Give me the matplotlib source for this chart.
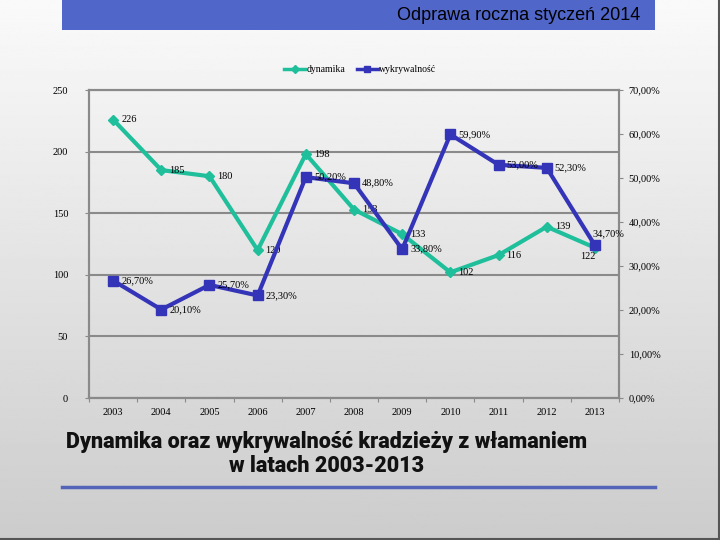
"""Dynamika oraz wykrywalnosc kradziezy z wlamaniem 2003-2013."""

import matplotlib

matplotlib.use("Agg")

import matplotlib.pyplot as plt  # noqa: E402
import numpy as np               # noqa: E402
from matplotlib.lines import Line2D  # noqa: E402

years = ["2003", "2004", "2005", "2006", "2007", "2008",
         "2009", "2010", "2011", "2012", "2013"]
dynamika = [226, 185, 180, 120, 198, 153, 133, 102, 116, 139, 122]
wykrywalnosc = [26.70, 20.10, 25.70, 23.30, 50.20, 48.80,
                33.80, 59.90, 53.00, 52.30, 34.70]

TEAL = "#1fbf9c"
BLUE = "#3434b8"
GRID = "#8a8a8a"
SERIF = ["Liberation Serif", "DejaVu Serif"]

fig = plt.figure(figsize=(7.2, 5.4), dpi=100)

# background gradient
bg = fig.add_axes([0, 0, 1, 1], zorder=-10)
grad = np.linspace(0.98, 0.80, 256).reshape(-1, 1)
bg.imshow(grad, cmap="gray", vmin=0, vmax=1, aspect="auto",
          extent=[0, 1, 0, 1], origin="upper")
bg.set_xlim(0, 1)
bg.set_ylim(0, 1)
bg.axis("off")

# header bar
bg.add_patch(plt.Rectangle((62 / 720, 1 - 30 / 540), (655 - 62) / 720, 30 / 540,
                           facecolor="#5066c8", edgecolor="none"))
bg.text(640 / 720, 1 - 15 / 540, "Odprawa roczna styczeń 2014",
        ha="right", va="center", fontsize=13,
        family=["Liberation Sans", "DejaVu Sans"], color="black")

# bottom title and rule
bg.text(327 / 720, 1 - 454 / 540,
        "Dynamika oraz wykrywalność kradzieży z włamaniem\nw latach 2003-2013",
        ha="center", va="center", fontsize=15.5, fontweight=900,
        linespacing=1.1, color="#111111",
        family=["Roboto", "DejaVu Sans"])
bg.plot([62 / 720, 655 / 720], [1 - 487 / 540] * 2, color="#5464b8", lw=2.5)
bg.plot([0, 1], [0.001, 0.001], color="#555555", lw=1.5)
bg.plot([0.999, 0.999], [0, 1], color="#555555", lw=1.5)

# chart
ax = fig.add_axes([89 / 720, 1 - 398 / 540, 530 / 720, 308 / 540])
ax.set_facecolor("none")
x = np.arange(len(years))
ax.plot(x, dynamika, color=TEAL, lw=3, marker="D", markersize=5, zorder=3)
ax.set_xlim(-0.5, len(years) - 0.5)
ax.set_ylim(0, 250)
ax.set_yticks(np.arange(0, 251, 50))
ax.set_yticklabels([str(v) for v in range(0, 251, 50)])
ax.yaxis.grid(True, color=GRID, lw=1.5)
ax.set_axisbelow(True)
ax.set_xticks(np.arange(-0.5, len(years), 1.0))
ax.set_xticklabels([])
ax.set_xticks(x, minor=True)
ax.set_xticklabels(years, minor=True)
ax.tick_params(axis="x", which="minor", length=0, pad=7)
ax.tick_params(axis="x", which="major", length=3, color=GRID)
ax.tick_params(axis="y", length=3, color=GRID, pad=12)
for s in ax.spines.values():
    s.set_color(GRID)
    s.set_linewidth(1.5)
for lab in ax.get_yticklabels() + ax.get_xticklabels(minor=True):
    lab.set_family(SERIF)
    lab.set_fontsize(7.5)

ax2 = ax.twinx()
ax2.plot(x, wykrywalnosc, color=BLUE, lw=3, marker="s", markersize=7, zorder=3)
ax2.set_ylim(0, 70)
ax2.set_yticks(np.arange(0, 71, 10))
ax2.set_yticklabels([f"{v:.2f}%".replace(".", ",") for v in range(0, 71, 10)])
ax2.tick_params(axis="y", length=3, color=GRID, pad=4)
for s in ax2.spines.values():
    s.set_color(GRID)
    s.set_linewidth(1.5)
for lab in ax2.get_yticklabels():
    lab.set_family(SERIF)
    lab.set_fontsize(7.5)

# data labels
dyn_off = [(8, 0)] * 10 + [(-7, -9)]
wyk_off = [(8, 0)] * 10 + [(-2, 12)]
for i, v in enumerate(dynamika):
    ha = "center" if i == len(dynamika) - 1 else "left"
    ax.annotate(str(v), (x[i], v), xytext=dyn_off[i], textcoords="offset pixels",
                ha=ha, va="center", fontsize=7.5, family=SERIF)
for i, v in enumerate(wykrywalnosc):
    ax2.annotate(f"{v:.2f}%".replace(".", ","), (x[i], v), xytext=wyk_off[i],
                 textcoords="offset pixels", ha="left", va="center",
                 fontsize=7.5, family=SERIF)

handles = [
    Line2D([], [], color=TEAL, lw=2.5, marker="D", markersize=4, label="dynamika"),
    Line2D([], [], color=BLUE, lw=2.5, marker="s", markersize=4, label="wykrywalność"),
]
fig.legend(handles=handles, loc="center", bbox_to_anchor=(0.5, 1 - 70 / 540),
           ncol=2, frameon=False, prop={"family": SERIF, "size": 7},
           handlelength=2.2, handletextpad=0.1, columnspacing=1.2)

fig.savefig("out.png", dpi=100)
plt.close(fig)
